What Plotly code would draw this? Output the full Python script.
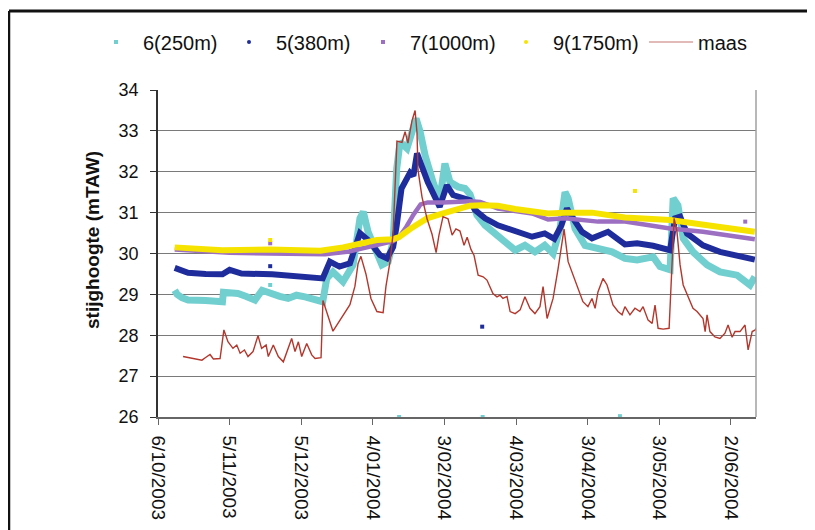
import pandas as pd
import plotly.graph_objects as go

START = pd.Timestamp("2003-10-06")

# tick labels (dates on the x axis, every 30 days)
tick_dates = ["2003-10-06", "2003-11-05", "2003-12-05", "2004-01-04", "2004-02-03",
              "2004-03-04", "2004-04-03", "2004-05-03", "2004-06-02"]
tick_labels = ["6/10/2003", "5/11/2003", "5/12/2003", "4/01/2004", "3/02/2004",
               "4/03/2004", "3/04/2004", "3/05/2004", "2/06/2004"]

# series: day offset from START, level in mTAW
p6_day = [7, 8, 10, 12.6, 20, 27, 27.4, 33.5, 37, 40.6, 43.6, 47.8, 51, 54.5, 58, 61.6, 65.8, 69,
          70.7, 73.3, 77.5, 81.7, 84.6, 86, 88, 91.7, 93.8, 96.4, 98.5, 100, 101.4, 104.3, 105.6,
          107, 108.1, 109.8, 111.9, 115.2, 118, 120.2, 122.3, 125.7, 128.6, 130.7, 133.6, 137,
          142.4, 149.6, 153.7, 157.9, 162, 165.5, 168.4, 170.5, 171.8, 174.7, 178.9, 184.3, 190.2,
          195.6, 200.7, 207.4, 210.3, 214.5, 215.8, 217.8, 220, 224.1, 230, 235.4, 242.6, 248, 250]
p6_val = [29.1, 29.0, 28.92, 28.86, 28.85, 28.82, 29.05, 29.02, 28.95, 28.86, 29.1, 29.0, 28.95,
          28.9, 28.98, 28.94, 28.86, 28.82, 29.39, 29.55, 29.31, 29.72, 30.86, 31.02, 30.53, 30.04,
          29.72, 29.8, 30.29, 32.08, 32.73, 32.57, 32.81, 32.98, 33.3, 32.98, 32.4, 31.75, 31.3,
          32.2, 31.75, 31.63, 31.59, 31.45, 30.94, 30.69, 30.41, 30.08, 30.2, 30.04, 30.2, 30.0,
          30.61, 31.5, 31.35, 30.61, 30.2, 30.12, 30.04, 29.88, 29.84, 29.92, 29.68, 29.6, 31.35,
          31.18, 30.37, 30.04, 29.72, 29.55, 29.47, 29.23, 29.43]

p5_day = [7, 12.6, 20, 27, 30, 35, 47.8, 57.4, 65.8, 69, 72, 76, 80.4, 84.6, 88, 93, 95.9, 98.5,
          100, 102, 105.6, 107, 108.5, 109.8, 113, 118, 121, 123.6, 126.5, 130.7, 132.8, 137,
          142.4, 149.6, 156.7, 162, 166, 169, 171.3, 173.4, 177.6, 181.8, 188.5, 195.6, 200.7,
          207.4, 214.5, 216.6, 218.7, 221.6, 228.3, 235.4, 242.6, 249.3, 250]
p5_val = [29.65, 29.53, 29.5, 29.49, 29.6, 29.51, 29.49, 29.46, 29.43, 29.39, 29.8, 29.68, 29.76,
          30.5, 30.33, 29.96, 29.88, 30.16, 30.69, 31.59, 31.98, 31.9, 32.45, 32.24, 31.75, 31.14,
          31.67, 31.43, 31.39, 31.3, 31.06, 30.86, 30.69, 30.53, 30.41, 30.49, 30.36, 30.69, 31.1,
          30.9, 30.53, 30.37, 30.53, 30.22, 30.25, 30.19, 30.08, 30.86, 30.9, 30.49, 30.2, 30.04,
          29.96, 29.86, 29.85]

p7_day = [7, 20, 30, 47, 65, 70, 80, 90, 98.5, 101, 104, 107, 110, 113, 119.4, 130.7, 135,
          142.4, 156.7, 163.4, 170.5, 184.3, 195.6, 214.5, 228.3, 250]
p7_val = [30.1, 30.05, 30.02, 30.0, 30.0, 29.98, 30.05, 30.2, 30.3, 30.4, 30.65, 30.95, 31.2,
          31.25, 31.25, 31.28, 31.26, 31.1, 30.98, 30.83, 30.86, 30.78, 30.78, 30.61, 30.53, 30.35]

p9_day = [7, 27, 47, 66, 68, 77.5, 84.6, 91.7, 98.5, 101, 105.6, 112.7, 119.4, 126.5, 130.7, 136,
          142.4, 149.6, 156.7, 163.4, 170.5, 181.8, 195.6, 214.5, 235.4, 250]
p9_val = [30.15, 30.08, 30.1, 30.1, 30.07, 30.15, 30.25, 30.33, 30.35, 30.4, 30.6, 30.86, 30.98,
          31.1, 31.17, 31.18, 31.17, 31.09, 31.04, 30.98, 31.0, 31.0, 30.88, 30.82, 30.65, 30.53]

maas_day = [10.5, 15.5, 18.4, 19.8, 21.8, 23.2, 26, 27.6, 29.3, 31.4, 33, 34.4, 36.2, 37.7, 39.8,
            41.9, 43.4, 45.3, 46.2, 48.3, 50.4, 52.5, 53.9, 56, 57.4, 58.8, 60.2, 62.3, 64.4, 65.8,
            68.3, 69.1, 73.3, 77.5, 80.4, 82.5, 83.8, 85, 87.1, 89.2, 91.7, 94.3, 95.5, 97.2, 98.5,
            100.1, 102.2, 103.5, 104.7, 106.4, 107.7, 108.5, 108.9, 110.6, 112.7, 114.8, 116.5,
            117.7, 119.4, 121.5, 123.2, 124.8, 126.5, 128.2, 129.5, 131.1, 132.4, 134.1, 136.2,
            137.8, 139.1, 140.3, 142, 143.3, 144.5, 146.2, 147.5, 149.6, 151.7, 153.7, 155.8, 157.9,
            160, 161.3, 163, 164.2, 165.5, 167.6, 170.1, 171.8, 173.9, 176, 178, 180.1, 181.8,
            183.1, 184.3, 186.4, 188.1, 189.4, 190.6, 192.7, 194.4, 195.6, 197.7, 199.8, 201.9,
            203.2, 205.3, 207, 208.2, 209.5, 211.6, 214.1, 215.4, 216.2, 217.4, 218.7, 220, 221.6,
            222.9, 224.1, 225.8, 227.1, 228.3, 229.2, 230, 231.2, 233.3, 235.4, 237.5, 238.8,
            240.5, 241.7, 243.8, 245.9, 247.2, 248.9, 250.2, 251.4]
maas_val = [27.48, 27.42, 27.39, 27.45, 27.53, 27.42, 27.43, 28.13, 27.84, 27.68, 27.76, 27.56,
            27.64, 27.48, 27.6, 27.99, 27.68, 27.76, 27.48, 27.76, 27.48, 27.35, 27.6, 27.92, 27.6,
            27.84, 27.48, 27.8, 27.52, 27.43, 27.45, 28.85, 28.1, 28.5, 28.75, 29.2, 29.75, 29.93,
            29.5, 28.9, 28.58, 28.55, 29.2, 29.8, 30.5, 32.75, 32.72, 32.98, 32.7, 33.25, 33.5,
            32.95, 32.05, 31.38, 30.85, 30.47, 30.02, 30.45, 30.9, 30.85, 30.45, 30.6, 30.55, 30.2,
            30.4, 30.1, 29.95, 29.47, 29.43, 29.35, 29.19, 29.02, 28.94, 28.98, 28.9, 28.95, 28.58,
            28.53, 28.62, 28.94, 28.66, 28.53, 28.7, 29.19, 28.41, 28.66, 28.9, 29.63, 30.6, 29.8,
            29.47, 29.15, 28.82, 28.7, 28.9, 28.66, 29.06, 29.39, 29.23, 28.98, 28.74, 28.58, 28.5,
            28.7, 28.5, 28.66, 28.58, 28.7, 28.37, 28.29, 28.74, 28.17, 28.15, 28.17, 29.63, 30.86,
            30.53, 29.72, 29.23, 29.02, 28.82, 28.66, 28.58, 28.5, 28.41, 28.09, 28.5, 28.09, 27.96,
            27.92, 28.05, 28.25, 27.95, 28.09, 28.09, 28.25, 27.64, 28.09, 28.13, 28.25]

# isolated readings (outliers)
p6_out_day = [47, 101, 136, 193.5]
p6_out_val = [29.23, 26.0, 26.0, 26.02]
p5_out_day = [47, 135.8]
p5_out_val = [29.69, 28.21]
p7_out_day = [47, 246]
p7_out_val = [30.25, 30.78]
p9_out_day = [47, 199.8]
p9_out_val = [30.33, 31.53]

names = ["6(250m)", "5(380m)", "7(1000m)", "9(1750m)", "maas"]
colors = ["#72cfd0", "#1f2d9c", "#9c6fc2", "#f6e400", "#b3372c"]


def to_dates(days):
    return START + pd.to_timedelta(days, unit="D")


fig = go.Figure()

bands = [(p6_day, p6_val, p6_out_day, p6_out_val, 7),
         (p5_day, p5_val, p5_out_day, p5_out_val, 6),
         (p7_day, p7_val, p7_out_day, p7_out_val, 4.5),
         (p9_day, p9_val, p9_out_day, p9_out_val, 6)]

for i, (d, v, od, ov, w) in enumerate(bands):
    fig.add_trace(go.Scatter(x=to_dates(d), y=v, mode="lines",
                             line=dict(color=colors[i], width=w), showlegend=False,
                             hoverinfo="skip"))
    fig.add_trace(go.Scatter(x=to_dates(od), y=ov, mode="markers",
                             marker=dict(color=colors[i], size=4, symbol="square"),
                             showlegend=False, cliponaxis=False))

fig.add_trace(go.Scatter(x=to_dates(maas_day), y=maas_val, mode="lines",
                         line=dict(color=colors[4], width=1.4), name=names[4],
                         showlegend=False))

# legend entries
symbols = ["square", "circle", "square", "circle"]
entry_w = [74, 75, 84, 86, 60]
for i in range(4):
    fig.add_trace(go.Scatter(x=[None], y=[None], mode="markers", name=names[i],
                             legend="legend", legendwidth=entry_w[i],
                             marker=dict(color=colors[i], size=4, symbol=symbols[i])))
fig.add_trace(go.Scatter(x=[None], y=[None], mode="lines", name=names[4],
                         legend="legend2", legendwidth=entry_w[4],
                         line=dict(color="#d9a3a0", width=1.5)))

# page body has an 8px margin: work in figure pixels = screen pixels - 8
OFF = 8
W, H = 815 - OFF, 530 - OFF
L, R, T, B = 158 - OFF, 756 - OFF, 90 - OFF, 417 - OFF

leg_common = dict(orientation="h", xref="container", yref="container",
                  y=1 - (42 - OFF) / H, xanchor="left", yanchor="middle",
                  font=dict(size=20), itemwidth=44, tracegroupgap=0,
                  bgcolor="rgba(0,0,0,0)")

fig.update_layout(
    width=W, height=H,
    margin=dict(l=L, r=W - R, t=T, b=H - B, autoexpand=False),
    paper_bgcolor="white", plot_bgcolor="white",
    font=dict(family="Liberation Sans, Arial, sans-serif", color="#111111", size=18),
    legend=dict(x=(89 - OFF) / W, **leg_common),
    legend2=dict(x=(644 - OFF) / W, **leg_common),
    showlegend=True,
)

fig.update_xaxes(
    type="date", automargin=False,
    range=[START, START + pd.Timedelta(days=250.5)],
    tickvals=tick_dates, ticktext=tick_labels, tickangle=90,
    ticks="outside", ticklen=6, tickcolor="#666666",
    showline=True, linecolor="#666666", linewidth=1.5,
    showgrid=False, zeroline=False, ticklabelstandoff=7,
    tickfont=dict(size=19),
)
fig.update_yaxes(
    range=[26, 34], dtick=1, tick0=26, automargin=False,
    ticks="outside", ticklen=6, tickcolor="#333333",
    showline=True, linecolor="#333333", linewidth=1.5,
    showgrid=True, gridcolor="#7a7a7a", gridwidth=1,
    zeroline=False, ticklabelstandoff=8,
    tickfont=dict(size=18),
)

pw, ph = R - L, B - T
fig.add_annotation(text="<b>stijghoogte (mTAW)</b>", textangle=-90,
                   xref="paper", yref="paper",
                   x=(92 - OFF - L) / pw, y=(B - (240 - OFF)) / ph, showarrow=False,
                   font=dict(size=19), xanchor="center", yanchor="middle")

# right border of plot area
fig.add_shape(type="line", xref="paper", yref="paper", x0=1, x1=1, y0=0, y1=1,
              line=dict(color="#a0a0a0", width=1.5))
# outer frame (top and left)
fx, fy = 9 - OFF, 11 - OFF
fig.add_shape(type="line", xref="paper", yref="paper",
              x0=(fx - L) / pw, x1=(W + 5 - L) / pw, y0=(B - fy) / ph, y1=(B - fy) / ph,
              line=dict(color="#111111", width=3))
fig.add_shape(type="line", xref="paper", yref="paper",
              x0=(fx - L) / pw, x1=(fx - L) / pw, y0=(B - fy) / ph, y1=(B - H - 5) / ph,
              line=dict(color="#111111", width=2.5))

fig.write_html("out.html")
